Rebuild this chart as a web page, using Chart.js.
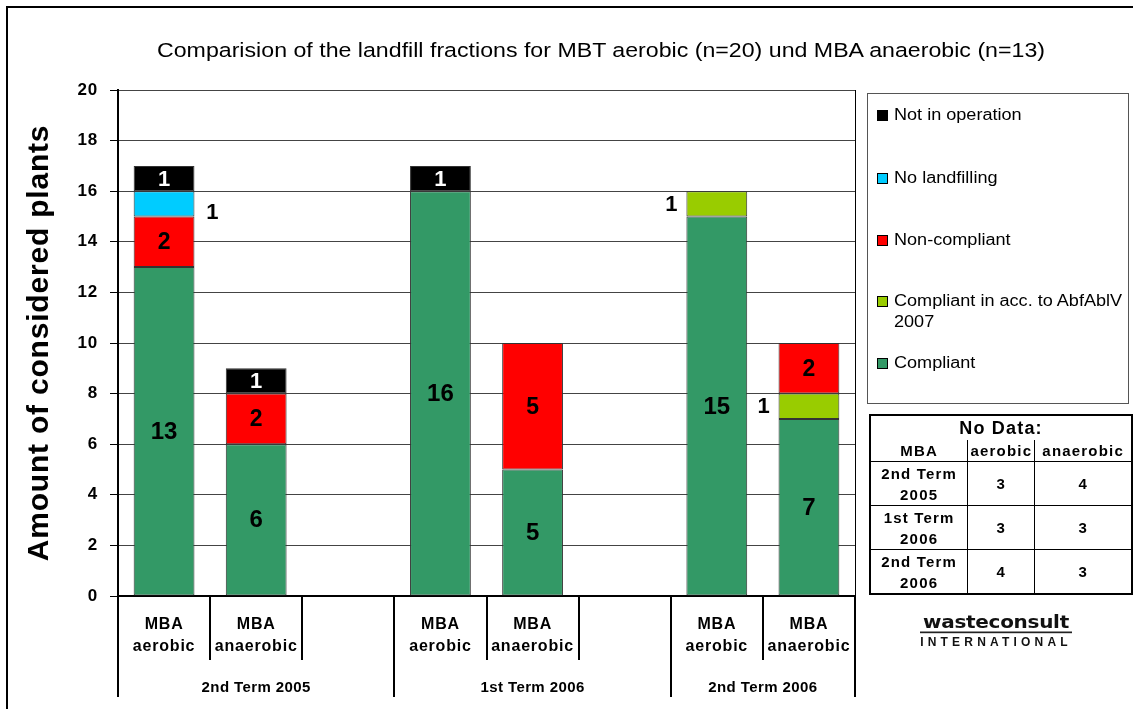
<!DOCTYPE html>
<html>
<head>
<meta charset="utf-8">
<script src="https://cdn.jsdelivr.net/npm/chart.js@4.4.1/dist/chart.umd.min.js"></script>
<style>
  html, body { margin:0; padding:0; background:#fff; }
  body { width:1133px; height:709px; position:relative; overflow:hidden; font-family:"Liberation Sans", Arial, sans-serif; }
  #frame { position:absolute; left:6px; top:6px; width:1150px; height:730px; border:2px solid #000; }
  #wrap { position:absolute; left:0; top:0; width:1133px; height:709px; }
  #title { position:absolute; left:0; top:40px; width:1202px; text-align:center; font-size:20.5px; line-height:20px; color:#000; transform:scaleX(1.13); transform-origin:601px 0; }
  #legend { position:absolute; left:867px; top:93px; width:262px; height:311px; border:1px solid #555; box-sizing:border-box; }
  .li { position:absolute; left:9px; font-size:16px; line-height:21px; color:#000; }
  .li .sw { position:absolute; left:0; top:6px; width:9px; height:9px; border:1px solid #000; }
  .li .tx { position:absolute; left:17px; top:0; white-space:nowrap; transform:scaleX(1.13); transform-origin:0 0; }
  #nodata { position:absolute; left:869px; top:414px; border-collapse:collapse; table-layout:fixed; border:2px solid #000; font-weight:bold; font-size:15px; letter-spacing:1.2px; color:#000; }
  #nodata td { border:1px solid #000; text-align:center; padding:0; white-space:nowrap; overflow:hidden; }
  #logo { position:absolute; left:896px; top:611px; width:200px; text-align:center; color:#111; }
  #logo .w { font-family:"DejaVu Sans", sans-serif; font-size:20px; font-weight:bold; letter-spacing:-0.3px; line-height:22px; border-bottom:2px solid #222; display:inline-block; padding:0 3px 0 3px; transform:scaleY(0.85); }
  #logo .i { font-size:12px; font-weight:bold; letter-spacing:4.2px; line-height:14px; margin-top:0px; }
</style>
</head>
<body>
<div id="frame"></div>
<div id="wrap"><canvas id="c" width="1133" height="709"></canvas></div>
<div id="title"></div>
<div id="legend"></div>
<table id="nodata"></table>
<div id="logo"><div class="w">wasteconsult</div><div class="i">INTERNATIONAL</div></div>
<script>
// ---------- data ----------
const titleText = "Comparision of the landfill fractions for MBT aerobic (n=20) und MBA anaerobic (n=13)";
const yTitle = "Amount of considered plants";
const categories = [["MBA","aerobic"],["MBA","anaerobic"],"",["MBA","aerobic"],["MBA","anaerobic"],"",["MBA","aerobic"],["MBA","anaerobic"]];
const groupLabels = ["2nd Term 2005","1st Term 2006","2nd Term 2006"];
const groupStarts = [0,3,6];
const groupEnds = [3,6,8];
const yTicks = [0,2,4,6,8,10,12,14,16,18,20];

const seriesNames = ["Compliant","Compliant in acc. to AbfAblV 2007","Non-compliant","No landfilling","Not in operation"];
const compliant      = [13, 6, 0, 16, 5, 0, 15, 7];
const compliantAbf   = [ 0, 0, 0,  0, 0, 0,  1, 1];
const nonCompliant   = [ 2, 2, 0,  0, 5, 0,  0, 2];
const noLandfilling  = [ 1, 0, 0,  0, 0, 0,  0, 0];
const notInOperation = [ 1, 1, 0,  1, 0, 0,  0, 0];

const noDataRows = [["2nd Term","2005"],["1st Term","2006"],["2nd Term","2006"]];
const noDataAerobic = [3,3,4];
const noDataAnaerobic = [4,3,3];

// ---------- styles ----------
const colors = ["#339966","#99CC00","#FF0000","#00CCFF","#000000"];
const labelColors = ["#000","#000","#000","#000","#fff"];
const labelPlace = ["center","left","center","right","center"];
const labelSizes = [24, 22, 23, 22, 22];
const FONT = "'Liberation Sans', Arial, sans-serif";

document.getElementById('title').textContent = titleText;

// legend (reverse order)
const legend = document.getElementById('legend');
const legendTops = [10, 73, 135, 196, 258];
[4,3,2,1,0].forEach((si, k) => {
  const d = document.createElement('div');
  d.className = 'li';
  d.style.top = legendTops[k] + 'px';
  const sw = document.createElement('div'); sw.className = 'sw'; sw.style.background = colors[si];
  const tx = document.createElement('div'); tx.className = 'tx';
  if (si === 1) { tx.innerHTML = "Compliant in acc. to AbfAblV<br>2007"; } else { tx.textContent = seriesNames[si]; }
  d.appendChild(sw); d.appendChild(tx); legend.appendChild(d);
});

// no-data table
const tb = document.getElementById('nodata');
let html = '<colgroup><col style="width:102px"><col style="width:68px"><col style="width:100px"></colgroup>';
html += '<tr><td colspan="3" style="font-size:18px;height:24px;line-height:20px;border-bottom:none;">No Data:</td></tr>';
html += '<tr><td style="height:21px;border-top:none;">MBA</td><td style="border-top:none;">aerobic</td><td style="border-top:none;">anaerobic</td></tr>';
noDataRows.forEach((r,i)=>{
  html += '<tr><td style="height:43px;line-height:21px;">'+r[0]+'<br>'+r[1]+'</td><td>'+noDataAerobic[i]+'</td><td>'+noDataAnaerobic[i]+'</td></tr>';
});
tb.innerHTML = html;

const seriesData = [compliant, compliantAbf, nonCompliant, noLandfilling, notInOperation];

const labelPlugin = {
  id: 'segLabels',
  beforeDraw(chart) {
    chart.ctx.letterSpacing = '0.8px';
  },
  afterDatasetsDraw(chart) {
    const ctx = chart.ctx;
    ctx.save();
    ctx.letterSpacing = '0px';
    ctx.textAlign = 'center';
    ctx.textBaseline = 'middle';
    chart.data.datasets.forEach((ds, di) => {
      const meta = chart.getDatasetMeta(di);
      meta.data.forEach((bar, i) => {
        const v = seriesData[di][i];
        if (!v) return;
        const p = bar.getProps(['x','y','base','width'], true);
        let cx = p.x, cy = (p.y + p.base) / 2 + 1;
        if (labelPlace[di] === 'left') cx = p.x - p.width/2 - 15;
        if (labelPlace[di] === 'right') { cx = p.x + p.width/2 + 18; cy += 8; }
        ctx.font = "bold " + labelSizes[di] + "px " + FONT;
        ctx.fillStyle = labelColors[di];
        ctx.fillText(String(v), cx, cy);
      });
    });
    ctx.restore();
  },
  afterDraw(chart) {
    const ctx = chart.ctx, a = chart.chartArea;
    const n = categories.length;
    const w = (a.right - a.left) / n;
    ctx.save();
    ctx.strokeStyle = '#000';
    ctx.lineWidth = 1;
    ctx.beginPath(); ctx.moveTo(a.right + 0.5, a.top); ctx.lineTo(a.right + 0.5, a.bottom); ctx.stroke();
    ctx.lineWidth = 2;
    for (let i = 0; i <= n; i++) {
      const x = Math.round(a.left + i * w);
      const isGroup = groupStarts.includes(i) || groupEnds.includes(i);
      ctx.beginPath();
      ctx.moveTo(x, a.bottom);
      ctx.lineTo(x, isGroup ? a.bottom + 101 : a.bottom + 64);
      ctx.stroke();
    }
    ctx.fillStyle = '#000';
    ctx.letterSpacing = '0.4px';
    ctx.font = "bold 15px " + FONT;
    ctx.textAlign = 'center';
    ctx.textBaseline = 'middle';
    groupLabels.forEach((g, k) => {
      const x = a.left + (groupStarts[k] + groupEnds[k]) / 2 * w;
      ctx.fillText(g, x, a.bottom + 92);
    });
    ctx.restore();
  }
};

new Chart(document.getElementById('c'), {
  type: 'bar',
  data: {
    labels: categories,
    datasets: seriesData.map((arr, si) => ({
      label: seriesNames[si],
      data: arr.map(v => v || null),
      backgroundColor: colors[si],
      borderColor: '#333',
      borderWidth: 1,
      borderSkipped: false,
      barPercentage: 0.66,
      categoryPercentage: 1.0
    }))
  },
  options: {
    responsive: false,
    animation: false,
    layout: { padding: { left: 0, top: 90, right: 278, bottom: 0 } },
    plugins: { legend: { display: false }, tooltip: { enabled: false }, title: { display: false } },
    scales: {
      x: {
        stacked: true,
        offset: true,
        grid: { display: false, drawTicks: false },
        border: { display: true, color: '#000', width: 2 },
        ticks: { color: '#000', font: { family: FONT, size: 16, weight: 'bold', lineHeight: 1.4 }, padding: 17, maxRotation: 0, autoSkip: false },
        afterFit(s) { s.height = 113; }
      },
      y: {
        stacked: true,
        min: 0, max: 20,
        afterBuildTicks(s) { s.ticks = yTicks.map(v => ({ value: v })); },
        grid: { color: '#444', lineWidth: 1, tickLength: 8, tickColor: '#000' },
        border: { display: true, color: '#000', width: 2 },
        ticks: { color: '#000', font: { family: FONT, size: 17, weight: 'bold' }, padding: 12 },
        title: { display: true, text: yTitle, color: '#000', font: { family: FONT, size: 30, weight: 'bold' }, padding: { top: 22, bottom: 0 } },
        afterFit(s) { s.width = 118; }
      }
    }
  },
  plugins: [labelPlugin]
});
</script>
</body>
</html>
